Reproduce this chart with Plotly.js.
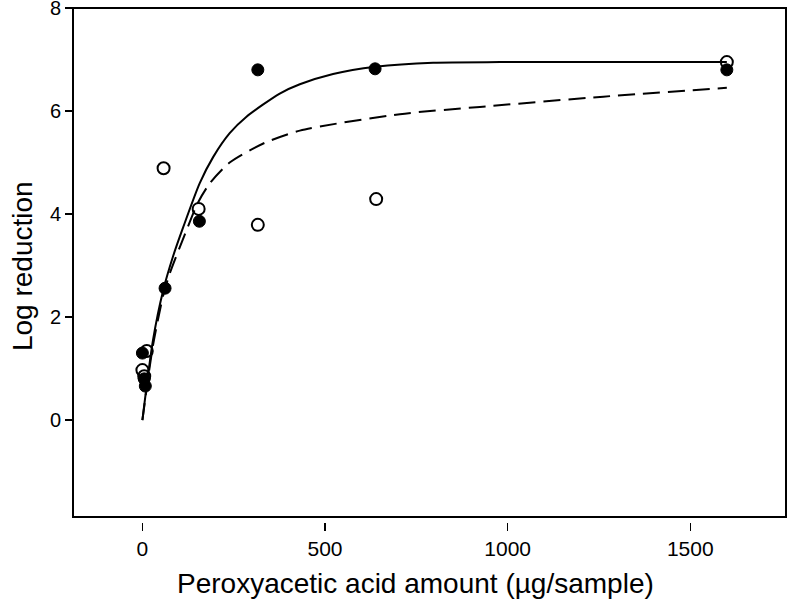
<!DOCTYPE html>
<html>
<head>
<meta charset="utf-8">
<script src="https://cdn.plot.ly/plotly-3.0.1.min.js"></script>
<style>html,body{margin:0;padding:0;background:#fff;}#chart{width:799px;height:605px;}</style>
</head>
<body>
<div id="chart"></div>
<script>
// Filled circles (series 1)
const filledX = [0, 5, 8, 62, 156, 316, 637, 1600];
const filledY = [1.30, 0.80, 0.66, 2.56, 3.86, 6.80, 6.82, 6.80];
// Open circles (series 2)
const openX = [0, 5, 12, 58, 154, 316, 640, 1600];
const openY = [0.97, 0.85, 1.34, 4.89, 4.10, 3.79, 4.29, 6.95];
// Solid fitted curve
const solidX = [0, 29, 57, 84, 112, 157, 194, 239, 285, 376, 431, 522, 638, 796, 979, 1200, 1600];
const solidY = [0, 1.55, 2.52, 3.18, 3.75, 4.60, 5.11, 5.57, 5.89, 6.34, 6.52, 6.72, 6.86, 6.94, 6.95, 6.95, 6.95];
// Dashed fitted curve
const dashX = [0, 29, 57, 75, 116, 152, 185, 239, 331, 431, 705, 924, 1262, 1600];
const dashY = [0, 1.45, 2.42, 2.85, 3.60, 4.22, 4.60, 5.00, 5.37, 5.62, 5.94, 6.08, 6.28, 6.45];
// Axis ticks
const xTicks = [0, 500, 1000, 1500];
const yTicks = [0, 2, 4, 6, 8];
// Titles
const xTitle = 'Peroxyacetic acid amount (µg/sample)';
const yTitle = 'Log reduction';

const traces = [
  {x: solidX, y: solidY, mode: 'lines', line: {color: '#000', width: 2, shape: 'spline', smoothing: 0.7}, hoverinfo: 'skip'},
  {x: dashX, y: dashY, mode: 'lines', line: {color: '#000', width: 2, dash: '17px,8px', shape: 'spline', smoothing: 0.7}, hoverinfo: 'skip'},
  {x: filledX, y: filledY, mode: 'markers', marker: {symbol: 'circle', size: 12, color: '#000', line: {color: '#000', width: 1}}},
  {x: openX, y: openY, mode: 'markers', marker: {symbol: 'circle-open', size: 12, color: '#000', line: {color: '#000', width: 2}}}
];

const layout = {
  width: 799, height: 605,
  margin: {l: 73, r: 13, t: 8, b: 83},
  paper_bgcolor: '#fff', plot_bgcolor: '#fff',
  showlegend: false,
  font: {family: 'Liberation Sans, Arial, sans-serif', color: '#000'},
  xaxis: {
    range: [-190, 1762], tickvals: xTicks, ticktext: xTicks.map(String),
    ticks: 'outside', ticklen: 8, tickwidth: 1.5, tickcolor: '#000',
    showline: false, showgrid: false, zeroline: false,
    tickfont: {size: 21, family: 'Liberation Sans Narrow, Liberation Sans, Arial, sans-serif'}
  },
  yaxis: {
    range: [-1.98, 8.001], tickvals: yTicks, ticktext: yTicks.map(String),
    ticks: 'outside', ticklen: 7, tickwidth: 1.5, tickcolor: '#000',
    showline: false, showgrid: false, zeroline: false,
    ticklabeloverflow: 'allow',
    tickfont: {size: 20}
  },
  annotations: [
    {text: xTitle, xref: 'paper', yref: 'paper', x: 0.481, y: -0.119, xanchor: 'center', yanchor: 'middle',
     showarrow: false, font: {size: 28}},
    {text: yTitle, xref: 'paper', yref: 'paper', x: -0.0715, y: 0.498, xanchor: 'center', yanchor: 'middle',
     textangle: -90, showarrow: false, font: {size: 28}}
  ],
  shapes: [{
    type: 'rect', xref: 'paper', yref: 'paper', x0: 0, x1: 1, y0: 0.0097, y1: 1,
    line: {color: '#000', width: 2}, fillcolor: 'rgba(0,0,0,0)'
  }]
};

Plotly.newPlot('chart', traces, layout, {displayModeBar: false, staticPlot: true});
</script>
</body>
</html>
